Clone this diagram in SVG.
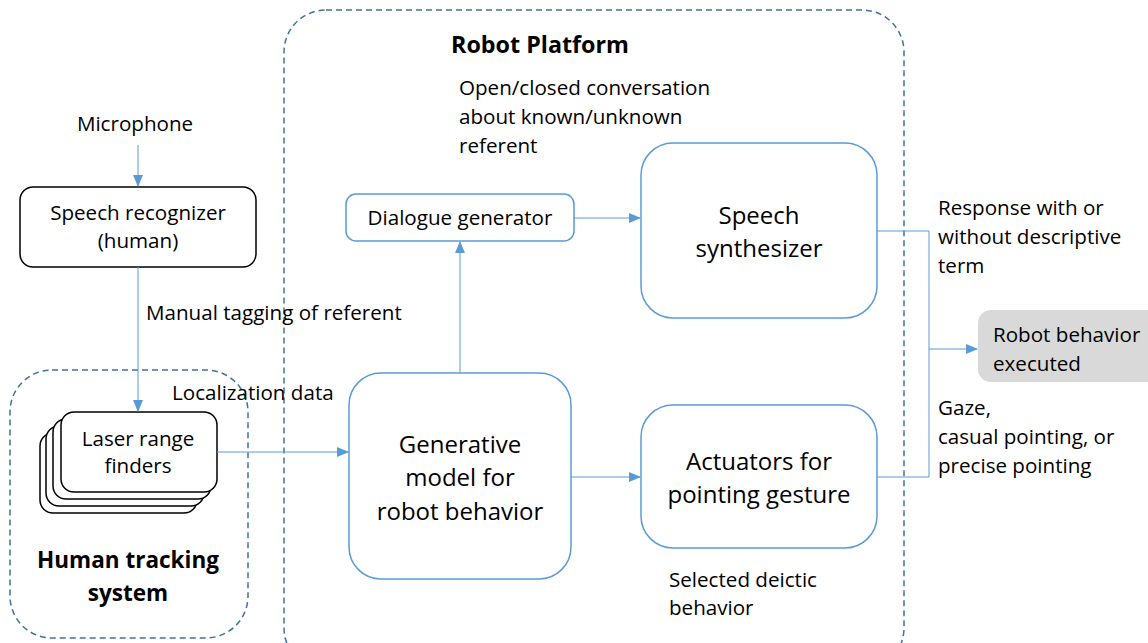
<svg xmlns="http://www.w3.org/2000/svg" width="1148" height="643" viewBox="0 0 1148 643">
<style>
text{font-family:"Open Sans","Noto Sans","Liberation Sans",sans-serif;fill:#000}
.t{font-size:20.6px}
.big{font-size:24px;text-anchor:middle}
.b{font-weight:bold;font-size:22.5px;text-anchor:middle}
.c{text-anchor:middle}
.blue{fill:#fff;stroke:#5b9bd5;stroke-width:1.5}
.blk{fill:#fff;stroke:#000;stroke-width:1.5}
.dash{fill:none;stroke:#41719c;stroke-width:1.5;stroke-dasharray:6 4}
.ln{fill:none;stroke:#5b9bd5;stroke-width:1}
</style>
<defs>
<marker id="ah" markerWidth="12" markerHeight="10" refX="11" refY="5" orient="auto" markerUnits="userSpaceOnUse">
<path d="M0,0 L12,5 L0,10 Z" fill="#5b9bd5"/>
</marker>
</defs>
<rect width="1148" height="643" fill="#fff"/>
<g id="robot-platform">
<rect class="dash" x="284" y="10" width="620" height="660" rx="42"/>
<text class="b" x="540" y="53" style="font-size:23.3px">Robot Platform</text>
</g>
<g id="human-tracking">
<rect class="dash" x="10" y="370" width="238" height="268" rx="42"/>
<text class="b" x="128" y="568">Human tracking</text>
<text class="b" x="128" y="601">system</text>
</g>
<g id="microphone"><text class="t c" x="135" y="131">Microphone</text></g>
<g id="speech-recognizer">
<rect class="blk" x="20" y="187" width="236" height="80" rx="13"/>
<text class="t c" x="138" y="220">Speech recognizer</text>
<text class="t c" x="138" y="248">(human)</text>
</g>
<g id="laser-range-finders">
<rect class="blk" x="40" y="433" width="157" height="80" rx="13"/>
<rect class="blk" x="46" y="426" width="158" height="80" rx="13"/>
<rect class="blk" x="53" y="419" width="158" height="80" rx="13"/>
<rect class="blk" x="61" y="412" width="156" height="80" rx="13"/>
<text class="t c" x="138" y="446">Laser range</text>
<text class="t c" x="138" y="473">finders</text>
</g>
<g id="generative-model">
<rect class="blue" x="349" y="373" width="222" height="206" rx="32"/>
<text class="big" x="460" y="453">Generative</text>
<text class="big" x="460" y="486">model for</text>
<text class="big" x="460" y="520">robot behavior</text>
</g>
<g id="dialogue-generator">
<rect class="blue" x="346" y="194" width="228" height="47" rx="10"/>
<text class="t c" x="460" y="225">Dialogue generator</text>
</g>
<g id="speech-synthesizer">
<rect class="blue" x="641" y="143" width="236" height="175" rx="32"/>
<text class="big" x="759" y="224">Speech</text>
<text class="big" x="759" y="257">synthesizer</text>
</g>
<g id="actuators">
<rect class="blue" x="641" y="405" width="236" height="143" rx="32"/>
<text class="big" x="759" y="470">Actuators for</text>
<text class="big" x="759" y="503">pointing gesture</text>
</g>
<g id="robot-behavior-executed">
<rect x="978" y="310" width="190" height="72" rx="13" fill="#d9d9d9"/>
<text class="t" x="993" y="342">Robot behavior</text>
<text class="t" x="993" y="371">executed</text>
</g>
<g id="connectors">
<path class="ln" d="M138,145 V186" marker-end="url(#ah)"/>
<path class="ln" d="M138,267 V411" marker-end="url(#ah)"/>
<path class="ln" d="M217,452 H348" marker-end="url(#ah)"/>
<path class="ln" d="M460,373 V242" marker-end="url(#ah)"/>
<path class="ln" d="M574,218 H640" marker-end="url(#ah)"/>
<path class="ln" d="M571,477 H640" marker-end="url(#ah)"/>
<path class="ln" d="M877,231 H929 V477 H877"/>
<path class="ln" d="M929,349 H977" marker-end="url(#ah)"/>
</g>
<g id="labels">
<text class="t" x="146" y="320">Manual tagging of referent</text>
<text class="t" x="172" y="400">Localization data</text>
<text class="t" x="459" y="95">Open/closed conversation</text>
<text class="t" x="459" y="124">about known/unknown</text>
<text class="t" x="459" y="153">referent</text>
<text class="t" x="938" y="215">Response with or</text>
<text class="t" x="938" y="244">without descriptive</text>
<text class="t" x="938" y="273">term</text>
<text class="t" x="938" y="415">Gaze,</text>
<text class="t" x="938" y="444">casual pointing, or</text>
<text class="t" x="938" y="473">precise pointing</text>
<text class="t" x="669" y="587">Selected deictic</text>
<text class="t" x="669" y="615">behavior</text>
</g>
</svg>
